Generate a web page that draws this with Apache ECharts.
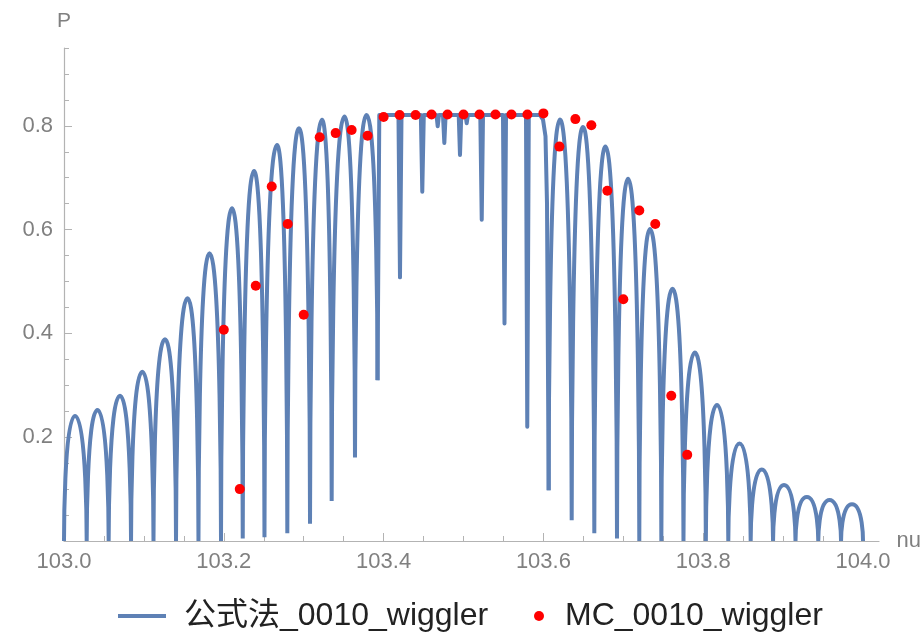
<!DOCTYPE html>
<html><head><meta charset="utf-8">
<script src="https://cdn.jsdelivr.net/npm/echarts@6/dist/echarts.min.js"></script>
<style>html,body{margin:0;padding:0;background:#fff}#c{width:924px;height:634px}</style>
</head><body><div id="c"></div>
<script>
// ---- Formula curve (公式法): arches rising from dips to peaks ----
const leftDipNu  = [103.0000, 103.0284, 103.0559, 103.0839, 103.1120, 103.1402, 103.1683, 103.1965, 103.2237, 103.2509, 103.2795, 103.3079, 103.3350, 103.3642, 103.3924];
const leftDipP   = [0, 0, 0, 0, 0, 0, 0, 0, 0.005, 0.007, 0.015, 0.033, 0.077, 0.161, 0.310];
const leftPeakNu = [103.0138, 103.0419, 103.0701, 103.0980, 103.1264, 103.1546, 103.1821, 103.2103, 103.2378, 103.2666, 103.2941, 103.3229, 103.3511, 103.3786];
const leftPeakP  = [0.241, 0.2525, 0.280, 0.326, 0.389, 0.468, 0.5546, 0.641, 0.713, 0.763, 0.7956, 0.8116, 0.818, 0.821];

// flat top with narrow spikes in the middle
const flatNu = [103.3924, 103.3946, 103.4186, 103.4205, 103.4224, 103.4466, 103.4484, 103.4503, 103.4662, 103.4677, 103.4693, 103.4743, 103.4760, 103.4776, 103.4940, 103.4956, 103.4972, 103.5025, 103.5040, 103.5056, 103.5210, 103.5228, 103.5244, 103.5494, 103.5513, 103.5532, 103.5782, 103.5798, 103.5817, 103.5957, 103.5995, 103.6026, 103.6045, 103.6066];
const flatP  = [0.310, 0.821, 0.821, 0.508, 0.821, 0.821, 0.673, 0.821, 0.821, 0.799, 0.821, 0.821, 0.767, 0.821, 0.821, 0.744, 0.821, 0.821, 0.805, 0.821, 0.821, 0.619, 0.821, 0.821, 0.419, 0.821, 0.821, 0.220, 0.821, 0.821, 0.812, 0.780, 0.650, 0.098];

const rightDipNu  = [103.6066, 103.6354, 103.6637, 103.6921, 103.7200, 103.7476, 103.7753, 103.8033, 103.8314, 103.8594, 103.8874, 103.9155, 103.9440, 103.9725, 104.0000];
const rightDipP   = [0.098, 0.040, 0.015, 0.005, 0, 0, 0, 0, 0, 0, 0, 0, 0, 0, 0];
const rightPeakNu = [103.6208, 103.6496, 103.6777, 103.7059, 103.7334, 103.7616, 103.7895, 103.8173, 103.8454, 103.8733, 103.9011, 103.9297, 103.9581, 103.9862];
const rightPeakP  = [0.812, 0.798, 0.760, 0.698, 0.601, 0.486, 0.363, 0.262, 0.188, 0.138, 0.108, 0.085, 0.079, 0.071];

// ---- MC points ----
const mcNu = [103.20, 103.22, 103.24, 103.26, 103.28, 103.30, 103.32, 103.34, 103.36, 103.38, 103.40, 103.42, 103.44, 103.46, 103.48, 103.50, 103.52, 103.54, 103.56, 103.58, 103.60, 103.62, 103.64, 103.66, 103.68, 103.70, 103.72, 103.74, 103.76, 103.78];
const mcP  = [0.407, 0.100, 0.492, 0.683, 0.611, 0.436, 0.778, 0.786, 0.792, 0.781, 0.817, 0.821, 0.821, 0.822, 0.822, 0.822, 0.822, 0.822, 0.822, 0.822, 0.824, 0.760, 0.813, 0.801, 0.675, 0.466, 0.637, 0.611, 0.280, 0.166];

// ---- axis ticks ----
const xMajorTicks = [103.0, 103.2, 103.4, 103.6, 103.8, 104.0];
const xMinorTicks = [103.05, 103.1, 103.15, 103.25, 103.3, 103.35, 103.45, 103.5, 103.55, 103.65, 103.7, 103.75, 103.85, 103.9, 103.95];
const yMajorTicks = [0.2, 0.4, 0.6, 0.8];
const yMinorTicks = [0.05, 0.1, 0.15, 0.25, 0.3, 0.35, 0.45, 0.5, 0.55, 0.65, 0.7, 0.75, 0.85, 0.9, 0.95];

const NAME_F = '公式法_0010_wiggler';
const NAME_MC = 'MC_0010_wiggler';

function arches(dipNu, dipP, peakNu, peakP) {
  const out = [];
  for (let i = 0; i < peakNu.length; i++) {
    out.push([dipNu[i], dipP[i]], [peakNu[i], peakP[i]], [dipNu[i + 1], dipP[i + 1]], [dipNu[i + 1], '-']);
  }
  return out;
}
const archData = arches(leftDipNu, leftDipP, leftPeakNu, leftPeakP)
  .concat(arches(rightDipNu, rightDipP, rightPeakNu, rightPeakP));
const flatData = flatNu.map((v, i) => [v, flatP[i]]);
const mcData = mcNu.map((v, i) => [v, mcP[i]]);

const BLUE = '#5e81b5';
const AXIS = '#b3b3b3';
const LABEL = '#808080';
const FONT = '"Liberation Sans", Arial, "Noto Sans CJK SC", sans-serif';

const chart = echarts.init(document.getElementById('c'), null, { renderer: 'canvas' });
chart.setOption({
  animation: false,
  backgroundColor: '#fff',
  textStyle: { fontFamily: FONT },
  grid: { left: 64, right: 45, top: 48, bottom: 93, containLabel: false },
  legend: [
    { left: 118, top: 600, padding: 0, icon: 'rect', itemWidth: 48, itemHeight: 4, selectedMode: false,
      data: [NAME_F], textStyle: { fontSize: 32, color: '#222', fontFamily: FONT, padding: [0, 0, 0, 13] } },
    { left: 534, top: 600, padding: 0, icon: 'circle', itemWidth: 10, itemHeight: 10, selectedMode: false,
      data: [NAME_MC], textStyle: { fontSize: 32, color: '#222', fontFamily: FONT, padding: [0, 0, 0, 16] } }
  ],
  xAxis: [
    { type: 'value', min: 103, max: 104.02, position: 'bottom',
      name: 'nu', nameLocation: 'end', nameGap: 17,
      nameTextStyle: { fontSize: 22, color: LABEL, fontFamily: FONT, verticalAlign: 'middle', padding: [3, 0, 0, 0] },
      axisLine: { show: true, lineStyle: { color: AXIS, width: 1.2 } },
      axisTick: { show: true, inside: true, length: 8, customValues: xMajorTicks, lineStyle: { color: AXIS } },
      axisLabel: { show: true, customValues: xMajorTicks, margin: 10, fontSize: 22, color: LABEL, fontFamily: FONT,
        formatter: v => Number(v).toFixed(1) },
      splitLine: { show: false } },
    { type: 'value', min: 103, max: 104.02, position: 'bottom', offset: 0,
      axisLine: { show: false },
      axisTick: { show: true, inside: true, length: 5, customValues: xMinorTicks, lineStyle: { color: AXIS } },
      axisLabel: { show: false }, splitLine: { show: false } }
  ],
  yAxis: [
    { type: 'value', min: 0, max: 0.95, position: 'left',
      name: 'P', nameLocation: 'end', nameGap: 16,
      nameTextStyle: { fontSize: 21, color: LABEL, fontFamily: FONT, align: 'center' },
      axisLine: { show: true, lineStyle: { color: AXIS, width: 1.2 } },
      axisTick: { show: true, inside: true, length: 8, customValues: yMajorTicks, lineStyle: { color: AXIS } },
      axisLabel: { show: true, customValues: yMajorTicks, margin: 11, fontSize: 22, color: LABEL, fontFamily: FONT,
        formatter: v => Number(v).toFixed(1) },
      splitLine: { show: false } },
    { type: 'value', min: 0, max: 0.95, position: 'left', offset: 0,
      axisLine: { show: false },
      axisTick: { show: true, inside: true, length: 5, customValues: yMinorTicks, lineStyle: { color: AXIS } },
      axisLabel: { show: false }, splitLine: { show: false } }
  ],
  series: [
    { name: NAME_F, type: 'line', data: archData, smooth: 1, smoothMonotone: 'x', symbol: 'none',
      connectNulls: false, itemStyle: { color: BLUE }, lineStyle: { color: BLUE, width: 4, join: 'round' }, z: 2 },
    { name: NAME_F, type: 'line', data: flatData, smooth: false, symbol: 'none',
      itemStyle: { color: BLUE }, lineStyle: { color: BLUE, width: 4, join: 'round' }, z: 2 },
    { name: NAME_MC, type: 'scatter', data: mcData, symbol: 'circle', symbolSize: 10,
      itemStyle: { color: '#ff0000', opacity: 1 }, z: 5 }
  ]
});
</script>
</body></html>
